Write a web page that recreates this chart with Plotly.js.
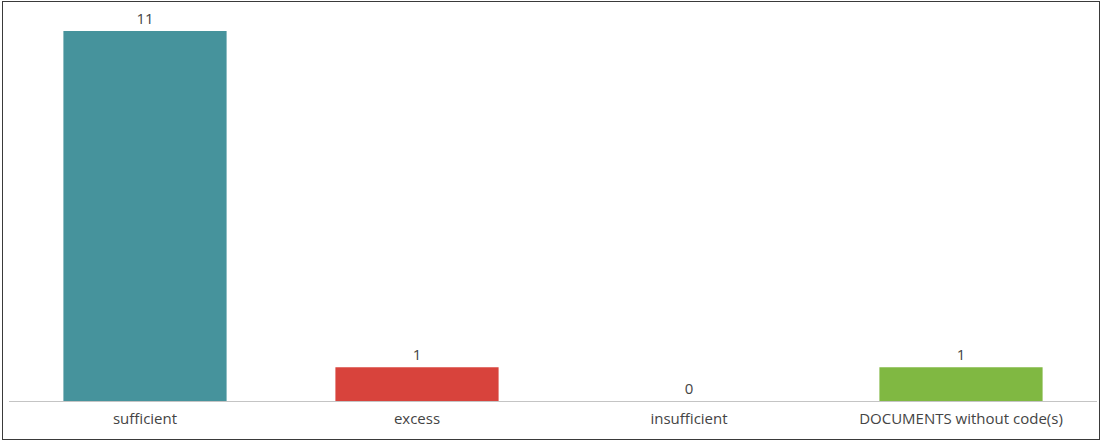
<!DOCTYPE html>
<html><head><meta charset="utf-8">
<script src="https://cdn.plot.ly/plotly-3.0.1.min.js"></script>
<style>
html,body{margin:0;padding:0;background:#fff;}
#chart{width:1103px;height:441px;}
#frame{position:absolute;left:2px;top:1px;width:1096px;height:437px;border:1.5px solid #3a3a3a;pointer-events:none;}
</style></head>
<body>
<div id="chart"></div>
<div id="frame"></div>
<script>
const categories = ["sufficient", "excess", "insufficient", "DOCUMENTS without code(s)"];
const counts = [11, 1, 0, 1];
const barColors = ["#46939c", "#d8433c", "#888888", "#80b842"];

Plotly.newPlot("chart", [{
  type: "bar",
  x: categories,
  y: counts,
  marker: {color: barColors},
  text: counts.map(String),
  textposition: "outside",
  cliponaxis: false,
  textfont: {family: "Open Sans, Noto Sans, sans-serif", size: 15, color: "#444"},
  width: 0.6,
  hoverinfo: "none"
}], {
  width: 1103, height: 441,
  margin: {l: 9, r: 6, t: 31, b: 40},
  paper_bgcolor: "#fff", plot_bgcolor: "#fff",
  showlegend: false,
  xaxis: {
    showline: true, linecolor: "#c4c4c4", linewidth: 1,
    ticks: "", showgrid: false, zeroline: false,
    ticklabelstandoff: 4,
    tickfont: {family: "Open Sans, Noto Sans, sans-serif", size: 15, color: "#444"}
  },
  yaxis: {
    range: [0, 11], visible: false, showgrid: false, zeroline: false
  },
  font: {family: "Open Sans, Noto Sans, sans-serif"}
}, {displayModeBar: false, staticPlot: true});
</script>
</body></html>
